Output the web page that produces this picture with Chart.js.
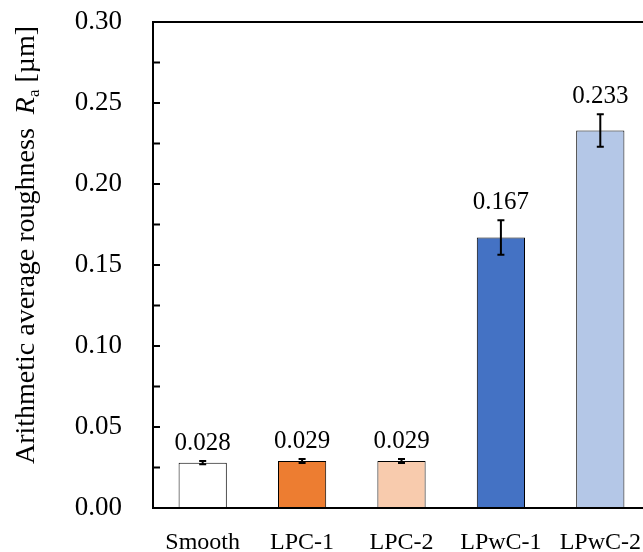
<!DOCTYPE html>
<html>
<head>
<meta charset="utf-8">
<script src="https://cdn.jsdelivr.net/npm/chart.js@4"></script>
<style>
  html, body { margin: 0; padding: 0; background: #fff; overflow: hidden; }
  #wrap { width: 660px; height: 552px; }
</style>
</head>
<body>
<div id="wrap"><canvas id="chart" width="660" height="552"></canvas></div>
<script>
// surface roughness Ra per sample
const categories = ['Smooth', 'LPC-1', 'LPC-2', 'LPwC-1', 'LPwC-2'];
const roughness = [0.028, 0.029, 0.029, 0.167, 0.233];
const roughnessErr = [0.001, 0.0012, 0.0012, 0.0106, 0.010];
const valueLabels = ['0.028', '0.029', '0.029', '0.167', '0.233'];
const barColors = ['#FFFFFF', '#ED7D31', '#F8CBAD', '#4472C4', '#B4C7E7'];

const SERIF = '"Liberation Serif", "Times New Roman", serif';

// error bars + value labels above them
const errorBarPlugin = {
    id: 'errorBars',
    afterDatasetsDraw(chart) {
        const ctx = chart.ctx;
        const y = chart.scales.y;
        const meta = chart.getDatasetMeta(0);
        ctx.save();
        ctx.strokeStyle = '#000';
        ctx.lineWidth = 2;
        meta.data.forEach((bar, i) => {
            const top = y.getPixelForValue(roughness[i] + roughnessErr[i]);
            const bot = y.getPixelForValue(roughness[i] - roughnessErr[i]);
            ctx.beginPath();
            ctx.moveTo(bar.x, top);
            ctx.lineTo(bar.x, bot);
            ctx.moveTo(bar.x - 3.5, top);
            ctx.lineTo(bar.x + 3.5, top);
            ctx.moveTo(bar.x - 3.5, bot);
            ctx.lineTo(bar.x + 3.5, bot);
            ctx.stroke();
            ctx.fillStyle = '#000';
            ctx.font = '25px ' + SERIF;
            ctx.textAlign = 'center';
            ctx.fillText(valueLabels[i], bar.x, top - 11);
        });
        ctx.restore();
    }
};

// frame, inward ticks and rotated axis title
const framePlugin = {
    id: 'frame',
    afterDraw(chart) {
        const ctx = chart.ctx;
        const a = chart.chartArea;
        const y = chart.scales.y;
        ctx.save();
        ctx.strokeStyle = '#000';
        ctx.lineWidth = 2;
        ctx.strokeRect(a.left, a.top, a.right - a.left, a.bottom - a.top);
        ctx.beginPath();
        y.ticks.forEach(t => {
            const py = y.getPixelForValue(t.value);
            ctx.moveTo(a.left, py);
            ctx.lineTo(a.left + 7, py);
        });
        ctx.stroke();

        // y title: Arithmetic average roughness Ra [µm]
        const parts = [
            { text: 'Arithmetic average roughness  ', font: '28px ' + SERIF, dy: 0 },
            { text: 'R', font: 'italic 28px ' + SERIF, dy: 0 },
            { text: 'a', font: '17px ' + SERIF, dy: 5 },
            { text: ' [µm]', font: '28px ' + SERIF, dy: 0 }
        ];
        let total = 0;
        parts.forEach(p => { ctx.font = p.font; p.w = ctx.measureText(p.text).width; total += p.w; });
        ctx.translate(34, 245);
        ctx.rotate(-Math.PI / 2);
        ctx.fillStyle = '#000';
        ctx.textAlign = 'left';
        let x = -total / 2;
        parts.forEach(p => {
            ctx.font = p.font;
            ctx.fillText(p.text, x, p.dy);
            x += p.w;
        });
        ctx.restore();
    }
};

new Chart(document.getElementById('chart'), {
    type: 'bar',
    data: {
        labels: categories,
        datasets: [{
            data: roughness,
            backgroundColor: barColors,
            borderColor: '#000',
            borderWidth: 1,
            barPercentage: 0.485,
            categoryPercentage: 1
        }]
    },
    options: {
        responsive: false,
        animation: false,
        layout: { padding: { top: 22, right: 10, left: 0, bottom: 0 } },
        plugins: { legend: { display: false }, tooltip: { enabled: false } },
        scales: {
            x: {
                grid: { display: false, drawTicks: false },
                border: { display: true, color: '#000', width: 2 },
                ticks: { color: '#000', font: { family: SERIF, size: 24 }, padding: 20, maxRotation: 0 },
                afterFit(scale) { scale.height = 44; scale.paddingLeft = 0; scale.paddingRight = 0; }
            },
            y: {
                min: 0,
                max: 0.30,
                grid: { display: false, drawTicks: false },
                border: { display: true, color: '#000', width: 2 },
                ticks: {
                    stepSize: 0.025,
                    color: '#000',
                    padding: 31,
                    font: { family: SERIF, size: 27 },
                    callback: (v, i) => (i % 2 === 0 ? Number(v).toFixed(2) : '')
                },
                afterFit(scale) { scale.width = 153; scale.paddingTop = 0; scale.paddingBottom = 0; }
            }
        }
    },
    plugins: [errorBarPlugin, framePlugin]
});
</script>
</body>
</html>
